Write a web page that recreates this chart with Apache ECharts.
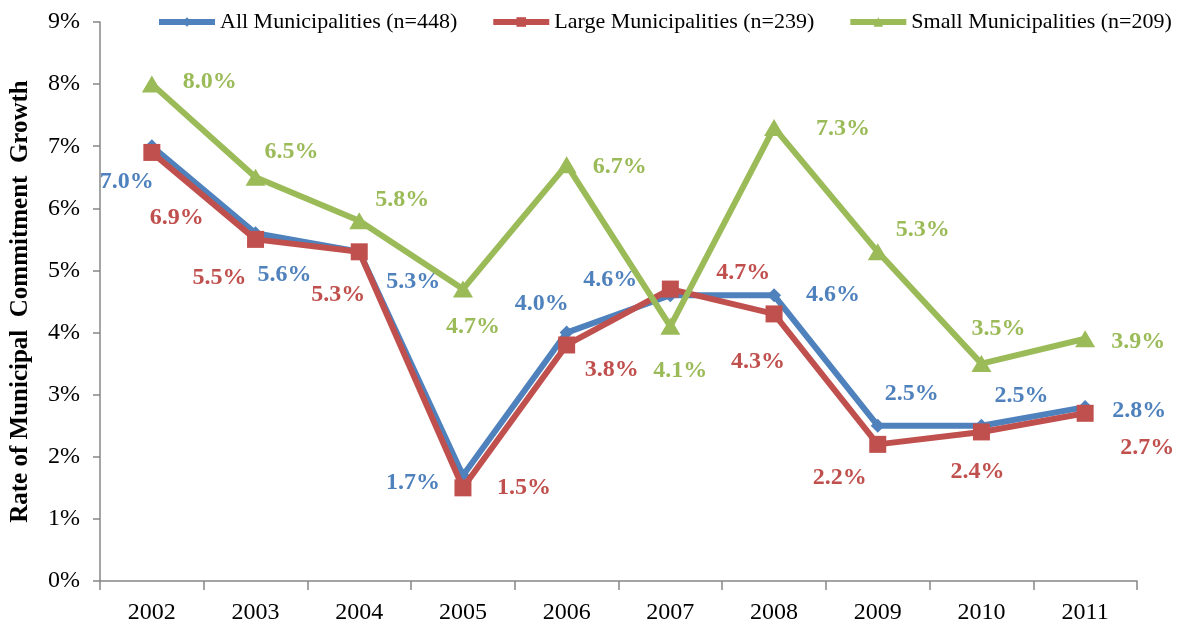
<!DOCTYPE html>
<html>
<head>
<meta charset="utf-8">
<script src="https://cdn.jsdelivr.net/npm/echarts@6/dist/echarts.min.js"></script>
<style>
html,body{margin:0;padding:0;background:#fff;}
#chart{width:1181px;height:629px;}
</style>
</head>
<body>
<div id="chart"></div>
<script>
// ---- data ----
const categories = ['2002','2003','2004','2005','2006','2007','2008','2009','2010','2011'];
const seriesNames = ['All Municipalities (n=448)','Large Municipalities (n=239)','Small Municipalities (n=209)'];
const allValues   = [7.0, 5.6, 5.3, 1.7, 4.0, 4.6, 4.6, 2.5, 2.5, 2.8];
const largeValues = [6.9, 5.5, 5.3, 1.5, 3.8, 4.7, 4.3, 2.2, 2.4, 2.7];
const smallValues = [8.0, 6.5, 5.8, 4.7, 6.7, 4.1, 7.3, 5.3, 3.5, 3.9];
const yAxisTitle = 'Rate of Municipal  Commitment  Growth';

// ---- label placement (layout only) ----
const allLabelOffsets   = [[-25,36],[29,42],[54,30],[-50,7],[-25,-29],[-60,-15],[59,0],[34,-32],[40,-30],[54,4]];
const largeLabelOffsets = [[25,65],[-36,38],[-21,43],[61,0],[45,25],[73,-16],[-16,48],[-38,33],[-4,40],[62,34]];
const smallLabelOffsets = [[58,-2],[36,-25],[43,-21],[10,38],[53,2],[10,44],[69,1],[45,-22],[17,-35],[53,3]];

const FONT = '"Liberation Serif","Times New Roman",serif';
const colors = ['#4F81BD', '#C0504D', '#9BBB59'];

function makeData(values, offsets) {
  return values.map((v, i) => ({ value: v, label: { offset: offsets[i] } }));
}

function makeSeries(name, values, offsets, color, symbol, size, z) {
  return {
    name: name,
    type: 'line',
    data: makeData(values, offsets),
    symbol: symbol,
    symbolSize: size,
    showAllSymbol: true,
    z: z,
    lineStyle: { color: color, width: 6 },
    itemStyle: { color: color, borderWidth: 0 },
    label: {
      show: true,
      position: 'inside',
      align: 'center',
      verticalAlign: 'middle',
      formatter: p => p.value.toFixed(1) + '%',
      color: color,
      fontFamily: FONT,
      fontWeight: 'bold',
      fontSize: 24
    },
    emphasis: { disabled: true },
    animation: false
  };
}

const chart = echarts.init(document.getElementById('chart'), null, { renderer: 'canvas' });
chart.setOption({
  backgroundColor: '#ffffff',
  animation: false,
  color: colors,
  legend: {
    left: 156,
    top: 11,
    padding: 0,
    itemGap: 33,
    itemWidth: 56,
    itemHeight: 12,
    lineStyle: { width: 6 },
    textStyle: { fontFamily: FONT, fontSize: 22, color: '#000' },
    data: seriesNames
  },
  grid: { left: 100, right: 44, top: 22, bottom: 48, containLabel: false },
  xAxis: {
    type: 'category',
    data: categories,
    boundaryGap: true,
    axisLine: { show: true, lineStyle: { color: '#868686', width: 1.5 } },
    axisTick: { show: true, alignWithLabel: false, length: 9, lineStyle: { color: '#868686', width: 1.5 } },
    axisLabel: { color: '#000', fontFamily: FONT, fontSize: 24, margin: 20 },
    splitLine: { show: false }
  },
  yAxis: {
    type: 'value',
    min: 0,
    max: 9,
    interval: 1,
    name: yAxisTitle,
    nameLocation: 'middle',
    nameGap: 67,
    nameTextStyle: { fontFamily: FONT, fontWeight: 'bold', fontSize: 25, color: '#000' },
    axisLine: { show: true, lineStyle: { color: '#868686', width: 1.5 } },
    axisTick: { show: true, length: 7, lineStyle: { color: '#868686', width: 1.5 } },
    axisLabel: { color: '#000', fontFamily: FONT, fontSize: 24, margin: 20, formatter: '{value}%' },
    splitLine: { show: false }
  },
  series: [
    makeSeries(seriesNames[0], allValues, allLabelOffsets, colors[0], 'diamond', 14, 2),
    makeSeries(seriesNames[1], largeValues, largeLabelOffsets, colors[1], 'rect', 17, 3),
    makeSeries(seriesNames[2], smallValues, smallLabelOffsets, colors[2], 'triangle', [20, 17], 4)
  ]
});
</script>
</body>
</html>
